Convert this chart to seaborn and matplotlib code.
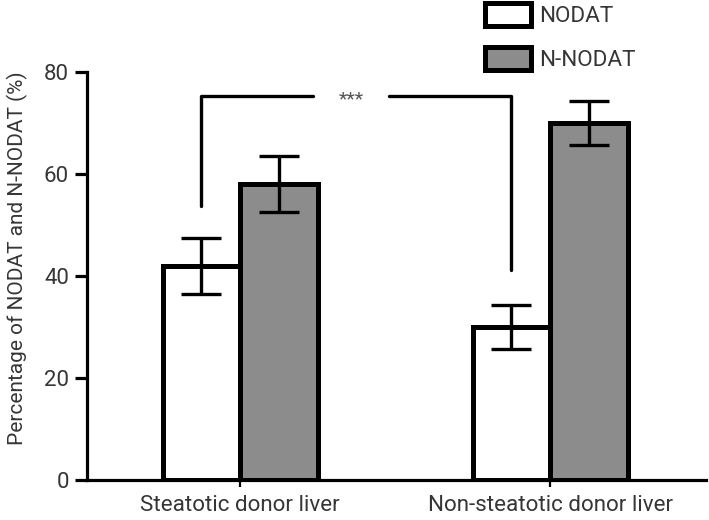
import matplotlib
matplotlib.use("Agg")
import matplotlib.pyplot as plt
import seaborn as sns
import pandas as pd
from matplotlib.patches import Patch

# ---- data ----
groups = ["Steatotic donor liver", "Non-steatotic donor liver"]
series = ["NODAT", "N-NODAT"]
nodat_pct = [42, 30]
nnodat_pct = [58, 70]
nodat_err = [5.5, 4.3]
nnodat_err = [5.5, 4.3]
y_ticks = [0, 20, 40, 60, 80]
sig_label = "***"
sig_y = 75.3
sig_drop = [53.7, 41.2]  # where the bracket legs end (left, right)

COLORS = {"NODAT": "white", "N-NODAT": "#8c8c8c"}
TXT = "#363636"

df = pd.DataFrame({
    "group": groups * 2,
    "series": [series[0]] * 2 + [series[1]] * 2,
    "pct": nodat_pct + nnodat_pct,
})
errs = {"NODAT": nodat_err, "N-NODAT": nnodat_err}

sns.set_style("white")
plt.rcParams["font.family"] = ["Roboto", "DejaVu Sans"]

fig = plt.figure(figsize=(7.09, 5.2), dpi=100)
ax = fig.add_axes([87 / 709, 40 / 520, (706 - 87) / 709, (480 - 72) / 520])

sns.barplot(data=df, x="group", y="pct", hue="series", order=groups,
            hue_order=series, palette=COLORS, edgecolor="black",
            linewidth=3.6, width=0.5, errorbar=None, legend=False, ax=ax,
            zorder=2)

# error bars at the bar centres
for cont, name in zip(ax.containers, series):
    xs = [b.get_x() + b.get_width() / 2 for b in cont]
    hs = [b.get_height() for b in cont]
    ax.errorbar(xs, hs, yerr=errs[name], fmt="none", ecolor="black",
                elinewidth=2.4, capsize=14.5, capthick=2.4, zorder=3)

# significance bracket between the NODAT bars
nod = ax.containers[0]
x_l = nod[0].get_x() + nod[0].get_width() / 2
x_r = nod[1].get_x() + nod[1].get_width() / 2
mid = (x_l + x_r) / 2 - 0.017
gap = 0.123
kw = dict(color="black", lw=2.4, solid_capstyle="round", zorder=3)
ax.plot([x_l, x_l, mid - gap], [sig_drop[0], sig_y, sig_y], **kw)
ax.plot([mid + gap, x_r, x_r], [sig_y, sig_y, sig_drop[1]], **kw)
ax.text(mid, sig_y - 0.6, sig_label, ha="center", va="center", fontsize=14,
        color="#555555")

ax.set_xlim(-0.494, 1.503)
ax.set_ylim(0, 80)
ax.set_yticks(y_ticks)
ax.set_xlabel("")
ax.set_ylabel("Percentage of NODAT and N-NODAT (%)", fontsize=15,
              color=TXT)
ax.yaxis.set_label_coords(-0.096, 0.543)

sns.despine(ax=ax)
for s in ["left", "bottom"]:
    ax.spines[s].set_linewidth(2.3)
    ax.spines[s].set_color("black")
ax.tick_params(axis="y", length=9, width=2.3, labelsize=16,
               labelcolor=TXT, pad=4, color="black", left=True)
ax.tick_params(axis="x", length=5, width=1.6, labelsize=16.1,
               labelcolor=TXT, pad=6, color="black", bottom=True)

handles = [Patch(facecolor=COLORS[s], edgecolor="black", linewidth=3.6)
           for s in series]
fig.legend(handles, series, loc="upper left",
           bbox_to_anchor=(483 / 709, 1 - 1 / 520), frameon=False,
           fontsize=16.2, handlelength=2.05, handleheight=1.17,
           labelspacing=0.9, handletextpad=0.35, borderpad=0.1,
           borderaxespad=0, labelcolor=TXT)

fig.savefig("out.png", dpi=100)
